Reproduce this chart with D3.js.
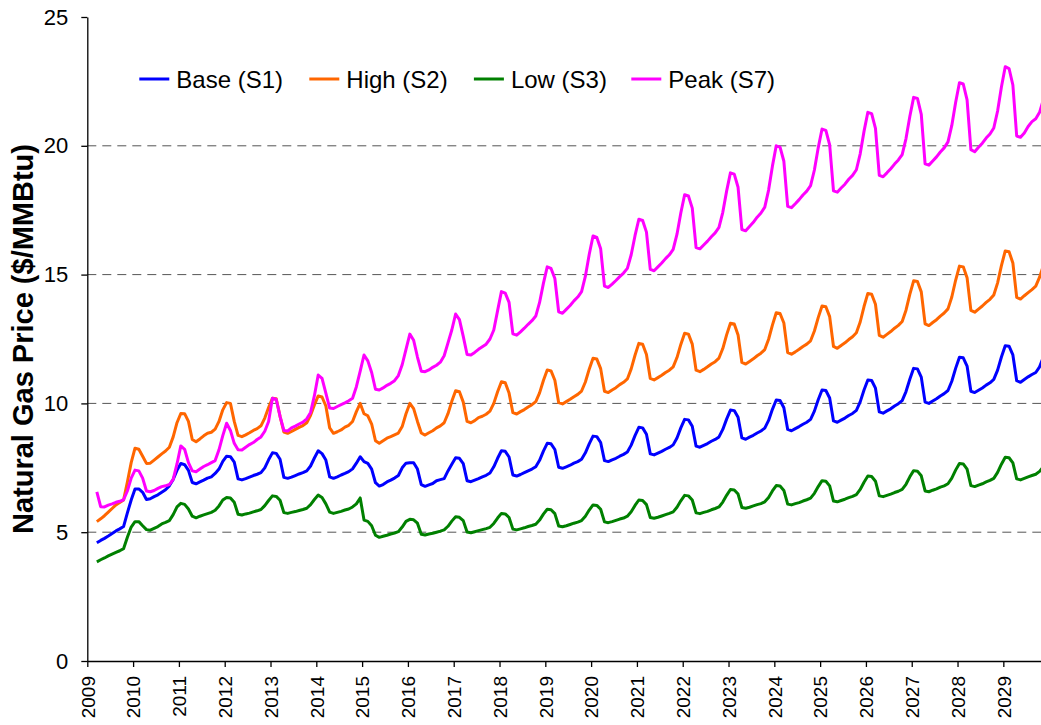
<!DOCTYPE html>
<html>
<head>
<meta charset="utf-8">
<script src="https://cdn.jsdelivr.net/npm/d3@7"></script>
<style>
  body { margin: 0; background: #fff; }
  svg { display: block; }
  text { font-family: "Liberation Sans", Arial, Helvetica, sans-serif; fill: #000; }
</style>
</head>
<body>
<svg id="chart" width="1041" height="725"></svg>
<script>
// Monthly natural gas price scenarios, $/MMBtu, first value = March 2009
const firstYear = 2009;
const firstMonth = 2; // 0 = January
const yearTicks = d3.range(2009, 2030);
const priceTicks = [0, 5, 10, 15, 20, 25];
const gridValues = [5, 10, 15, 20];
const seriesNames = ["Base (S1)", "High (S2)", "Low (S3)", "Peak (S7)"];
const seriesColors = ["#0000ff", "#ff6600", "#008000", "#ff00ff"];

const base = [
  4.59, 4.68, 4.76, 4.85, 4.95, 5.05, 5.13, 5.22, 5.75, 6.25,
  6.68, 6.68, 6.55, 6.27, 6.30, 6.38, 6.45, 6.55, 6.65, 6.80, 7.05, 7.40,
  7.67, 7.62, 7.40, 6.93, 6.88, 6.95, 7.02, 7.10, 7.15, 7.28, 7.45, 7.75,
  7.95, 7.93, 7.72, 7.07, 7.03, 7.08, 7.14, 7.20, 7.25, 7.31, 7.50, 7.81,
  8.08, 8.06, 7.83, 7.13, 7.09, 7.14, 7.20, 7.26, 7.31, 7.38, 7.57, 7.88,
  8.16, 8.05, 7.80, 7.15, 7.09, 7.15, 7.22, 7.28, 7.35, 7.46, 7.68, 7.93,
  7.74, 7.67, 7.45, 6.92, 6.79, 6.85, 6.95, 7.02, 7.10, 7.20, 7.50, 7.68,
  7.70, 7.70, 7.45, 6.85, 6.78, 6.84, 6.89, 7.00, 7.04, 7.08, 7.38, 7.64,
  7.89, 7.87, 7.66, 7.00, 6.96, 7.02, 7.08, 7.15, 7.21, 7.30, 7.54, 7.87,
  8.16, 8.14, 7.92, 7.22, 7.18, 7.24, 7.31, 7.38, 7.45, 7.54, 7.79, 8.15,
  8.45, 8.43, 8.21, 7.52, 7.48, 7.54, 7.60, 7.68, 7.74, 7.83, 8.08, 8.43,
  8.73, 8.71, 8.48, 7.78, 7.74, 7.81, 7.87, 7.95, 8.02, 8.11, 8.38, 8.75,
  9.07, 9.05, 8.80, 8.04, 8.00, 8.07, 8.14, 8.22, 8.29, 8.39, 8.66, 9.05,
  9.38, 9.36, 9.11, 8.34, 8.30, 8.37, 8.44, 8.53, 8.60, 8.70, 8.99, 9.39,
  9.74, 9.72, 9.46, 8.66, 8.61, 8.69, 8.76, 8.85, 8.93, 9.04, 9.34, 9.77,
  10.13, 10.11, 9.83, 8.99, 8.94, 9.02, 9.10, 9.19, 9.27, 9.38, 9.70, 10.14,
  10.52, 10.50, 10.21, 9.32, 9.27, 9.35, 9.43, 9.53, 9.61, 9.73, 10.06, 10.52,
  10.91, 10.89, 10.59, 9.67, 9.62, 9.71, 9.79, 9.90, 9.99, 10.11, 10.46, 10.94,
  11.36, 11.34, 11.02, 10.05, 10.00, 10.09, 10.18, 10.29, 10.38, 10.50, 10.86, 11.36,
  11.79, 11.77, 11.45, 10.47, 10.42, 10.51, 10.60, 10.71, 10.80, 10.93, 11.29, 11.80,
  12.24, 12.22, 11.88, 10.88, 10.82, 10.93, 11.03, 11.12, 11.20, 11.42, 11.80
];

const high = [
  5.41, 5.52, 5.64, 5.78, 5.92, 6.06, 6.15, 6.25, 6.95, 7.70,
  8.26, 8.22, 7.95, 7.67, 7.68, 7.80, 7.92, 8.04, 8.15, 8.30, 8.70, 9.25,
  9.61, 9.60, 9.30, 8.60, 8.51, 8.62, 8.74, 8.84, 8.88, 9.00, 9.30, 9.75,
  10.03, 10.00, 9.30, 8.76, 8.71, 8.78, 8.86, 8.95, 9.02, 9.13, 9.43, 9.84,
  10.20, 10.18, 9.50, 8.89, 8.84, 8.91, 8.99, 9.07, 9.14, 9.25, 9.54, 9.94,
  10.29, 10.25, 9.90, 9.05, 8.84, 8.90, 8.97, 9.08, 9.15, 9.30, 9.68, 10.00,
  9.60, 9.52, 9.20, 8.55, 8.45, 8.55, 8.65, 8.71, 8.78, 8.85, 9.10, 9.60,
  10.00, 9.80, 9.30, 8.85, 8.77, 8.86, 8.94, 9.05, 9.13, 9.25, 9.60, 10.08,
  10.49, 10.45, 10.05, 9.30, 9.25, 9.33, 9.45, 9.50, 9.58, 9.70, 10.00, 10.45,
  10.84, 10.80, 10.40, 9.64, 9.59, 9.68, 9.76, 9.86, 9.95, 10.07, 10.41, 10.89,
  11.30, 11.26, 10.90, 10.03, 9.98, 10.07, 10.16, 10.26, 10.35, 10.48, 10.83, 11.33,
  11.75, 11.72, 11.35, 10.47, 10.42, 10.52, 10.61, 10.73, 10.82, 10.95, 11.34, 11.87,
  12.33, 12.30, 11.90, 10.97, 10.91, 11.00, 11.09, 11.20, 11.29, 11.42, 11.78, 12.29,
  12.72, 12.69, 12.30, 11.29, 11.23, 11.32, 11.42, 11.53, 11.62, 11.76, 12.13, 12.66,
  13.11, 13.08, 12.66, 11.59, 11.53, 11.63, 11.73, 11.85, 11.95, 12.09, 12.49, 13.04,
  13.52, 13.49, 13.12, 11.97, 11.91, 12.00, 12.10, 12.21, 12.30, 12.43, 12.81, 13.33,
  13.78, 13.75, 13.37, 12.21, 12.14, 12.25, 12.35, 12.48, 12.59, 12.74, 13.16, 13.76,
  14.27, 14.24, 13.85, 12.64, 12.57, 12.68, 12.79, 12.92, 13.03, 13.18, 13.62, 14.23,
  14.76, 14.73, 14.33, 13.09, 13.02, 13.14, 13.25, 13.39, 13.51, 13.67, 14.13, 14.78,
  15.33, 15.30, 14.88, 13.61, 13.54, 13.66, 13.78, 13.92, 14.04, 14.21, 14.68, 15.35,
  15.92, 15.89, 15.45, 14.12, 14.05, 14.18, 14.30, 14.42, 14.55, 14.90, 15.35
];

const low = [
  3.85, 3.93, 4.00, 4.08, 4.15, 4.22, 4.28, 4.36, 4.80, 5.20,
  5.41, 5.41, 5.25, 5.10, 5.08, 5.15, 5.22, 5.32, 5.38, 5.45, 5.68, 5.98,
  6.12, 6.08, 5.90, 5.62, 5.56, 5.62, 5.67, 5.72, 5.77, 5.85, 6.02, 6.25,
  6.35, 6.33, 6.16, 5.70, 5.67, 5.71, 5.74, 5.79, 5.83, 5.88, 6.03, 6.23,
  6.41, 6.39, 6.24, 5.76, 5.73, 5.77, 5.80, 5.84, 5.88, 5.93, 6.07, 6.27,
  6.44, 6.35, 6.10, 5.78, 5.73, 5.77, 5.81, 5.86, 5.90, 5.98, 6.10, 6.33,
  5.47, 5.42, 5.25, 4.88, 4.80, 4.84, 4.88, 4.93, 4.97, 5.02, 5.20, 5.42,
  5.50, 5.48, 5.35, 4.92, 4.89, 4.93, 4.96, 5.00, 5.04, 5.09, 5.23, 5.43,
  5.60, 5.58, 5.45, 5.01, 4.98, 5.02, 5.06, 5.10, 5.14, 5.19, 5.34, 5.55,
  5.73, 5.71, 5.57, 5.12, 5.09, 5.13, 5.17, 5.22, 5.26, 5.31, 5.47, 5.70,
  5.89, 5.87, 5.72, 5.24, 5.21, 5.25, 5.30, 5.35, 5.39, 5.45, 5.62, 5.86,
  6.06, 6.04, 5.89, 5.40, 5.37, 5.41, 5.46, 5.51, 5.55, 5.62, 5.79, 6.04,
  6.25, 6.23, 6.07, 5.57, 5.54, 5.58, 5.63, 5.68, 5.73, 5.79, 5.97, 6.22,
  6.43, 6.41, 6.25, 5.75, 5.72, 5.77, 5.81, 5.87, 5.92, 5.98, 6.17, 6.43,
  6.66, 6.64, 6.48, 5.96, 5.93, 5.97, 6.02, 6.07, 6.11, 6.18, 6.35, 6.60,
  6.81, 6.79, 6.62, 6.09, 6.06, 6.11, 6.15, 6.21, 6.26, 6.32, 6.51, 6.77,
  7.00, 6.98, 6.80, 6.21, 6.18, 6.23, 6.28, 6.34, 6.39, 6.46, 6.66, 6.94,
  7.18, 7.16, 6.98, 6.41, 6.38, 6.43, 6.48, 6.54, 6.59, 6.66, 6.86, 7.15,
  7.39, 7.37, 7.19, 6.60, 6.57, 6.63, 6.68, 6.75, 6.80, 6.88, 7.10, 7.41,
  7.67, 7.65, 7.45, 6.81, 6.77, 6.83, 6.88, 6.95, 7.01, 7.09, 7.32, 7.64,
  7.91, 7.89, 7.69, 7.07, 7.03, 7.09, 7.15, 7.20, 7.25, 7.36, 7.55
];

const peak = [
  6.57, 5.99, 5.98, 6.05, 6.10, 6.16, 6.20, 6.26, 6.60, 7.10,
  7.41, 7.38, 7.10, 6.60, 6.57, 6.62, 6.70, 6.77, 6.80, 6.85, 7.05, 7.65,
  8.35, 8.22, 7.70, 7.38, 7.35, 7.45, 7.55, 7.62, 7.70, 7.78, 8.20, 8.75,
  9.23, 8.95, 8.45, 8.20, 8.19, 8.30, 8.40, 8.48, 8.60, 8.70, 8.92, 9.30,
  10.20, 10.15, 9.50, 8.95, 8.93, 9.05, 9.12, 9.20, 9.27, 9.40, 9.65, 10.30,
  11.10, 10.97, 10.40, 9.82, 9.80, 9.88, 9.95, 10.02, 10.10, 10.20, 10.65, 11.25,
  11.88, 11.65, 11.20, 10.55, 10.52, 10.60, 10.70, 10.78, 10.88, 11.08, 11.50, 12.10,
  12.69, 12.45, 11.80, 11.25, 11.23, 11.30, 11.40, 11.48, 11.60, 11.85, 12.35, 12.85,
  13.47, 13.25, 12.60, 11.90, 11.88, 11.98, 12.10, 12.20, 12.30, 12.50, 12.85, 13.60,
  14.34, 14.28, 13.92, 12.70, 12.65, 12.78, 12.92, 13.07, 13.21, 13.39, 13.92, 14.66,
  15.30, 15.24, 14.85, 13.55, 13.50, 13.65, 13.80, 13.98, 14.13, 14.34, 14.94, 15.78,
  16.50, 16.44, 16.00, 14.55, 14.50, 14.63, 14.77, 14.92, 15.06, 15.24, 15.77, 16.51,
  17.15, 17.10, 16.65, 15.20, 15.15, 15.30, 15.45, 15.62, 15.77, 15.98, 16.57, 17.39,
  18.10, 18.05, 17.58, 16.05, 16.00, 16.15, 16.30, 16.47, 16.62, 16.83, 17.42, 18.24,
  18.95, 18.90, 18.39, 16.75, 16.70, 16.87, 17.03, 17.23, 17.39, 17.62, 18.28, 19.21,
  20.00, 19.95, 19.40, 17.65, 17.60, 17.75, 17.91, 18.09, 18.24, 18.45, 19.06, 19.92,
  20.65, 20.60, 20.04, 18.25, 18.20, 18.36, 18.51, 18.70, 18.85, 19.07, 19.69, 20.56,
  21.30, 21.25, 20.68, 18.85, 18.80, 18.95, 19.11, 19.29, 19.45, 19.66, 20.28, 21.14,
  21.88, 21.84, 21.22, 19.30, 19.25, 19.41, 19.57, 19.76, 19.92, 20.15, 20.79, 21.68,
  22.45, 22.40, 21.78, 19.85, 19.77, 19.94, 20.10, 20.30, 20.46, 20.69, 21.35, 22.28,
  23.07, 23.00, 22.36, 20.38, 20.33, 20.50, 20.75, 20.94, 21.05, 21.30, 21.80
];

const seriesValues = [base, high, low, peak];

// ---- layout ----
const plotLeft = 87.3, plotTop = 17, plotBottom = 661, plotRight = 1041;

const svg = d3.select("#chart");

// time axis: one unit per year, monthly values sit at mid-month
const x = d3.scaleLinear()
  .domain([2009, 2029 + 10 / 12])
  .range([plotLeft, plotRight + 0.5]);
const y = d3.scaleLinear().domain([0, 25]).range([plotBottom, plotTop]);

const monthPos = i => firstYear + (firstMonth + i + 0.5) / 12;

// dashed horizontal gridlines
svg.append("g")
  .selectAll("line")
  .data(gridValues)
  .join("line")
  .attr("x1", plotLeft)
  .attr("x2", plotRight)
  .attr("y1", d => y(d))
  .attr("y2", d => y(d))
  .attr("stroke", "#555")
  .attr("stroke-width", 1)
  .attr("stroke-dasharray", "9,6");

// series lines
const line = d3.line()
  .x((d, i) => x(monthPos(i)))
  .y(d => y(d));

svg.append("g")
  .selectAll("path")
  .data(seriesValues)
  .join("path")
  .attr("d", d => line(d))
  .attr("fill", "none")
  .attr("stroke", (d, i) => seriesColors[i])
  .attr("stroke-width", 3)
  .attr("stroke-linejoin", "round")
  .attr("stroke-linecap", "butt");

// y axis
const yAxis = svg.append("g")
  .attr("transform", `translate(${plotLeft},0)`)
  .call(d3.axisLeft(y).tickValues(priceTicks).tickSize(6).tickSizeOuter(0).tickPadding(13));
yAxis.selectAll("text").style("font-size", "22px");

// x axis with vertical year labels
const xAxis = svg.append("g")
  .attr("transform", `translate(0,${plotBottom})`)
  .call(d3.axisBottom(x).tickValues(yearTicks).tickFormat(d3.format("d")).tickSize(6).tickSizeOuter(0));
xAxis.selectAll("text")
  .style("font-size", "19px")
  .style("text-anchor", "end")
  .attr("transform", "rotate(-90)")
  .attr("x", -15)
  .attr("y", 0)
  .attr("dy", "0.36em");

[yAxis, xAxis].forEach(g => {
  g.select(".domain").attr("stroke", "#000").attr("stroke-width", 1.3);
  g.selectAll(".tick line").attr("stroke", "#000").attr("stroke-width", 1.3);
});

// y axis title
svg.append("text")
  .attr("transform", `translate(23,${(plotTop + plotBottom) / 2}) rotate(-90)`)
  .attr("text-anchor", "middle")
  .attr("dy", "0.35em")
  .style("font-size", "29px")
  .style("font-weight", "bold")
  .text("Natural Gas Price ($/MMBtu)");

// legend
const legendX = [139.3, 309.3, 473.9, 631.3];
const legendY = 79;
const legend = svg.append("g")
  .selectAll("g")
  .data(seriesNames)
  .join("g")
  .attr("transform", (d, i) => `translate(${legendX[i]},${legendY})`);
legend.append("line")
  .attr("x1", 0).attr("x2", 30)
  .attr("stroke", (d, i) => seriesColors[i])
  .attr("stroke-width", 3);
legend.append("text")
  .attr("x", 37)
  .attr("dy", "0.36em")
  .style("font-size", "24px")
  .text(d => d);
</script>
</body>
</html>
